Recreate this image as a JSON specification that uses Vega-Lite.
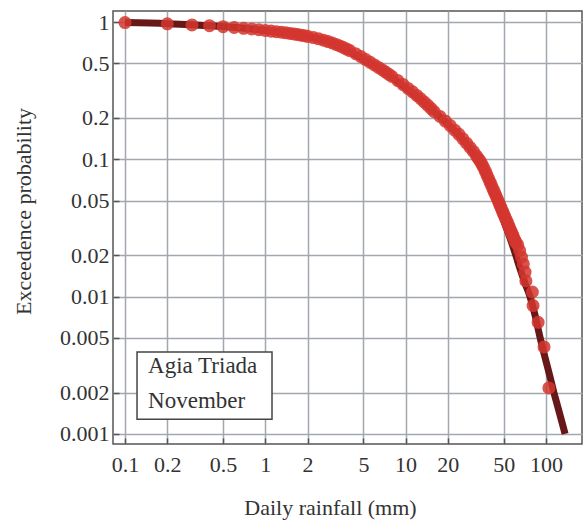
{
  "$schema": "https://vega.github.io/schema/vega-lite/v6.json",
  "width": 469,
  "height": 433,
  "autosize": {"type": "none"},
  "padding": {"left": 113, "top": 11, "right": 3, "bottom": 80},
  "background": "white",
  "config": {
    "font": "Liberation Serif",
    "view": {"stroke": "#555555", "strokeWidth": 1.5},
    "axis": {
      "labelFont": "Liberation Serif", "labelFontSize": 22, "labelColor": "#333333",
      "titleFont": "Liberation Serif", "titleFontSize": 22, "titleFontWeight": "normal", "titleColor": "#333333",
      "gridColor": "#a3a8b0", "gridWidth": 1.5, "gridOpacity": 1,
      "domain": false, "tickColor": "#555555", "tickSize": -6, "tickWidth": 1.5,
      "labelOverlap": false, "labelFlush": false
    }
  },
  "datasets": {
    "obs": [
      {"x":0.1,"p":0.99},{"x":0.2,"p":0.97},{"x":0.3,"p":0.952},{"x":0.4,"p":0.94},{"x":0.5,"p":0.925},
      {"x":0.6,"p":0.912},{"x":0.7,"p":0.9},{"x":0.8,"p":0.89},{"x":0.9,"p":0.878},{"x":1.0,"p":0.867},
      {"x":1.1,"p":0.858},{"x":1.2,"p":0.85},{"x":1.3,"p":0.842},{"x":1.4,"p":0.834},{"x":1.5,"p":0.826},
      {"x":1.6,"p":0.818},{"x":1.7,"p":0.81},{"x":1.8,"p":0.802},{"x":1.9,"p":0.794},{"x":2.0,"p":0.786},
      {"x":2.2,"p":0.77},{"x":2.4,"p":0.754},{"x":2.6,"p":0.737},{"x":2.8,"p":0.72},{"x":3.0,"p":0.703},
      {"x":3.2,"p":0.686},{"x":3.4,"p":0.669},{"x":3.6,"p":0.652},{"x":3.8,"p":0.635},{"x":4.0,"p":0.619},
      {"x":4.4,"p":0.588},{"x":4.8,"p":0.56},{"x":5.2,"p":0.533},{"x":5.6,"p":0.509},{"x":6.0,"p":0.487},
      {"x":6.4,"p":0.467},{"x":6.8,"p":0.449},{"x":7.2,"p":0.432},{"x":7.6,"p":0.416},{"x":8.0,"p":0.401},
      {"x":8.8,"p":0.374},{"x":9.6,"p":0.35},{"x":10.4,"p":0.328},{"x":11.2,"p":0.31},{"x":12.0,"p":0.292},
      {"x":12.8,"p":0.276},{"x":13.6,"p":0.261},{"x":14.4,"p":0.247},{"x":15.2,"p":0.234},{"x":16.0,"p":0.222},
      {"x":17.6,"p":0.205},{"x":19.2,"p":0.19},{"x":20.8,"p":0.176},{"x":22.4,"p":0.163},{"x":24.0,"p":0.152},
      {"x":25.6,"p":0.141},{"x":27.2,"p":0.131},{"x":28.8,"p":0.122},{"x":30.4,"p":0.114},{"x":32.0,"p":0.106},
      {"x":33,"p":0.101},{"x":34,"p":0.097},{"x":35,"p":0.092},{"x":36,"p":0.087},{"x":37,"p":0.0819},
      {"x":38,"p":0.0769},{"x":39,"p":0.0723},{"x":40,"p":0.0681},{"x":41,"p":0.0643},{"x":42,"p":0.0607},
      {"x":43,"p":0.0574},{"x":44,"p":0.0544},{"x":45,"p":0.0516},{"x":46,"p":0.049},{"x":47,"p":0.0465},
      {"x":48,"p":0.0442},{"x":49,"p":0.042},{"x":50,"p":0.04},{"x":51,"p":0.0382},{"x":52,"p":0.0364},
      {"x":53,"p":0.0348},{"x":54,"p":0.0332},{"x":55,"p":0.0318},{"x":56,"p":0.0304},{"x":57,"p":0.0292},
      {"x":58,"p":0.028},{"x":59,"p":0.0268},{"x":60,"p":0.0258},{"x":61,"p":0.0248},{"x":63,"p":0.0238},
      {"x":65,"p":0.0216},{"x":67,"p":0.0194},{"x":69,"p":0.0173},{"x":71,"p":0.0151},{"x":72,"p":0.013},
      {"x":80,"p":0.0108},{"x":81,"p":0.0086},{"x":88,"p":0.0065},{"x":97,"p":0.0043},{"x":105,"p":0.00216}
    ],
    "fit": [
      {"x":0.1,"p":0.99},{"x":0.2,"p":0.972},{"x":0.3,"p":0.955},{"x":0.5,"p":0.928},{"x":1,"p":0.868},
      {"x":2,"p":0.785},{"x":3,"p":0.7},{"x":5,"p":0.535},{"x":7,"p":0.435},{"x":10,"p":0.33},
      {"x":15,"p":0.235},{"x":20,"p":0.18},{"x":25,"p":0.143},{"x":28,"p":0.124},{"x":31,"p":0.106},
      {"x":33,"p":0.096},{"x":36,"p":0.081},{"x":40,"p":0.064},{"x":44,"p":0.05},{"x":48,"p":0.04},
      {"x":52,"p":0.032},{"x":56,"p":0.026},{"x":61,"p":0.02},{"x":66,"p":0.0155},{"x":71,"p":0.0125},
      {"x":77,"p":0.01},{"x":84,"p":0.0072},{"x":91,"p":0.005},{"x":100,"p":0.0034},{"x":107,"p":0.0026},
      {"x":114,"p":0.002},{"x":120,"p":0.00165},{"x":130,"p":0.00122},{"x":137,"p":0.001}
    ],
    "box": [{"x":0.1218,"x2":1.116,"p":0.00395,"p2":0.00128}],
    "notes": [
      {"x":0.146,"p":0.00278,"text":"Agia Triada"},
      {"x":0.146,"p":0.001545,"text":"November"}
    ]
  },
  "encoding": {
    "x": {
      "field": "x", "type": "quantitative", "title": "Daily rainfall (mm)",
      "scale": {"type": "log", "domain": [0.0821, 180.8], "nice": false, "zero": false},
      "axis": {"values": [0.1,0.2,0.5,1,2,5,10,20,50,100], "format": "~g", "labelPadding": 16, "titlePadding": 22, "titleX": 217}
    },
    "y": {
      "field": "p", "type": "quantitative", "title": "Exceedence probability",
      "scale": {"type": "log", "domain": [0.000844, 1.2026], "nice": false, "zero": false},
      "axis": {"values": [0.001,0.002,0.005,0.01,0.02,0.05,0.1,0.2,0.5,1], "format": "~g", "labelPadding": 10, "titlePadding": 24, "titleY": 200}
    }
  },
  "layer": [
    {
      "data": {"name": "fit"},
      "mark": {"type": "line", "color": "#681719", "strokeWidth": 7, "interpolate": "monotone", "strokeCap": "butt"}
    },
    {
      "data": {"name": "obs"},
      "mark": {"type": "circle", "size": 170, "color": "#d4362f", "opacity": 0.85}
    },
    {
      "data": {"name": "box"},
      "mark": {"type": "rect", "fill": "white", "stroke": "#444444", "strokeWidth": 1.5},
      "encoding": {"x2": {"field": "x2"}, "y2": {"field": "p2"}}
    },
    {
      "data": {"name": "notes"},
      "mark": {"type": "text", "align": "left", "baseline": "alphabetic", "fontSize": 23, "color": "#333333", "font": "Liberation Serif"},
      "encoding": {"text": {"field": "text"}}
    }
  ]
}
